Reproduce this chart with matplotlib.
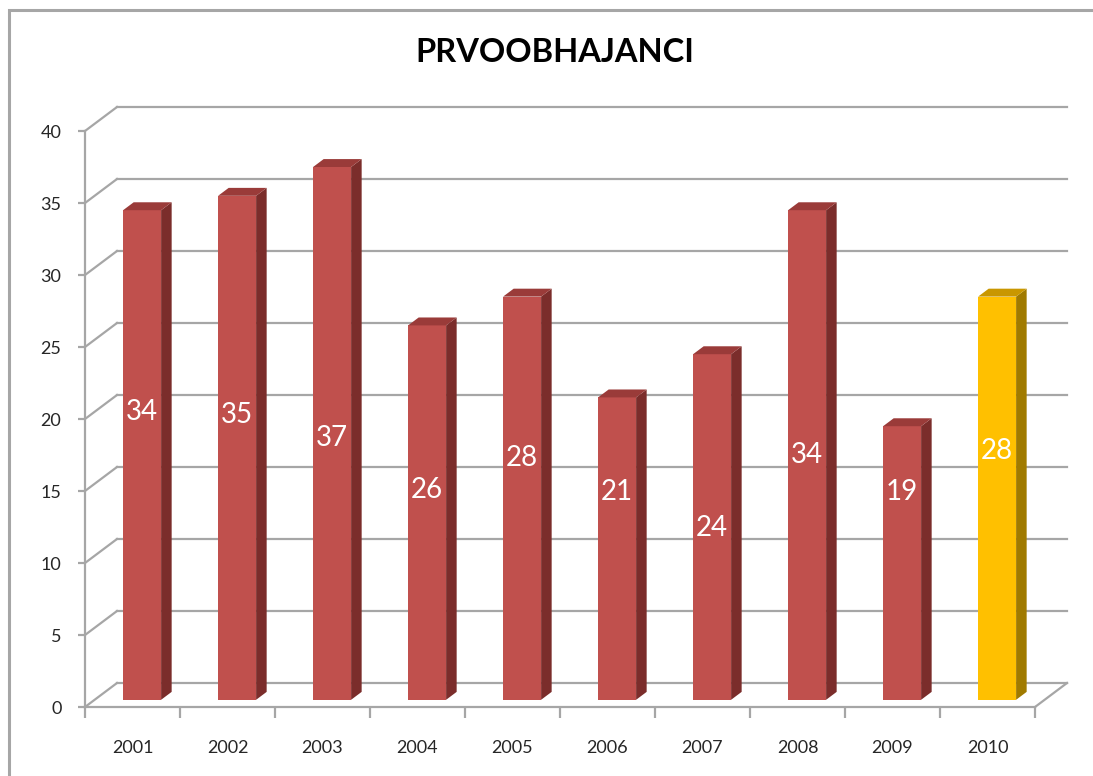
import matplotlib
matplotlib.use('agg')
import matplotlib.pyplot as plt
from matplotlib.patches import Rectangle

plt.rcParams['font.family'] = ['Lato', 'DejaVu Sans']

years = ['2001', '2002', '2003', '2004', '2005', '2006', '2007', '2008', '2009', '2010']
values = [34, 35, 37, 26, 28, 21, 24, 34, 19, 28]
# heights where the value labels sit (as placed in the original chart)
label_y = [20.5, 20.3, 18.7, 15.1, 17.3, 14.9, 12.4, 17.5, 14.9, 17.8]
highlight = '2010'

W, H = 1093, 776
fig = plt.figure(figsize=(W / 100, H / 100), dpi=100)
ax = fig.add_axes([85 / W, 1 - 707 / H, 950 / W, 576 / H])
ax.set_xlim(0, len(years))
ax.set_ylim(0, 40)

# depth of the 3d box, pixels -> data units
px_x = 950 / len(years)
px_y = 576 / 40
dx = 32 / px_x
dy = 24 / px_y

grid_c = '#a6a6a6'
for v in range(0, 41, 5):
    ax.plot([dx, len(years) + dx], [v + dy, v + dy], color=grid_c, lw=1.6,
            clip_on=False, zorder=1)
    ax.plot([0, dx], [v, v + dy], color=grid_c, lw=1.6, clip_on=False, zorder=1)
ax.plot([len(years), len(years) + dx], [0, dy], color=grid_c, lw=1.6,
        clip_on=False, zorder=1)

# bars
front = 0.3   # front face depth fraction
depth = 0.33  # bar depth fraction
w = 0.4
xs = [i + 0.3 + front * dx for i in range(len(years))]
y0 = front * dy
faces = []
for y, v in zip(years, values):
    if y == highlight:
        faces.append(('#ffc000', '#a07a00', '#c99700'))
    else:
        faces.append(('#c0504d', '#7b2d2b', '#9a3b39'))

ax.bar(xs, values, width=w, bottom=y0, align='edge',
       color=[f[0] for f in faces], zorder=3, clip_on=False)
for x0, v, f in zip(xs, values, faces):
    ex, ey = depth * dx, depth * dy
    ax.fill([x0 + w, x0 + w + ex, x0 + w + ex, x0 + w],
            [y0, y0 + ey, y0 + v + ey, y0 + v], color=f[1], lw=0,
            zorder=3, clip_on=False)
    ax.fill([x0, x0 + w, x0 + w + ex, x0 + ex],
            [y0 + v, y0 + v, y0 + v + ey, y0 + v + ey], color=f[2], lw=0,
            zorder=3, clip_on=False)

for i, (v, ly) in enumerate(zip(values, label_y)):
    ax.text(i + 0.6, ly, str(v), color='white', fontsize=20,
            ha='center', va='center', zorder=5)

# axes styling
for s in ['top', 'right']:
    ax.spines[s].set_visible(False)
for s in ['left', 'bottom']:
    ax.spines[s].set_color(grid_c)
    ax.spines[s].set_linewidth(1.6)
ax.set_yticks(range(0, 41, 5))
ax.tick_params(axis='y', length=5, width=1.6, color=grid_c, pad=12,
               labelsize=13, labelcolor='#262626')
ax.set_xticks(range(len(years) + 1))
ax.set_xticklabels([])
ax.tick_params(axis='x', which='major', length=8, width=1.6, color=grid_c)
ax.set_xticks([i + 0.5 for i in range(len(years))], minor=True)
ax.set_xticklabels(years, minor=True)
ax.tick_params(axis='x', which='minor', length=0, pad=24, labelsize=13,
               labelcolor='#262626')

fig.text(555 / W, 1 - 52 / H, 'PRVOOBHAJANCI', fontsize=23.5, fontweight='bold',
         ha='center', va='center', color='black')

# chart border (right and bottom edges fall outside the picture)
fig.add_artist(Rectangle((9 / W, -0.5), 2, 1.5 - 10 / H, facecolor='none',
                         edgecolor=grid_c, lw=2.2, transform=fig.transFigure))

fig.savefig('out.png', dpi=100)
